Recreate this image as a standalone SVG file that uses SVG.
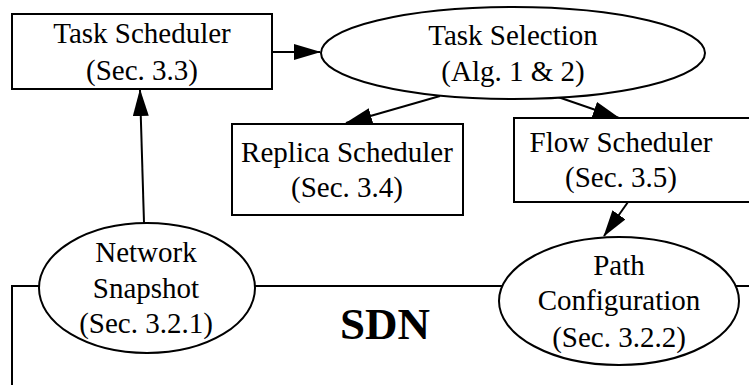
<svg xmlns="http://www.w3.org/2000/svg" width="749" height="385" viewBox="0 0 749 385">
  <style>
    .shape { fill: #fff; stroke: #000; stroke-width: 2; }
    .lbl { font-family: "Liberation Serif", "Times New Roman", serif; font-size: 29px; fill: #000; text-anchor: middle; }
    .sdn { font-family: "Liberation Serif", "Times New Roman", serif; font-size: 45px; font-weight: bold; fill: #000; text-anchor: middle; }
    .edge { fill: none; stroke: #000; stroke-width: 2; marker-end: url(#arrow); }
  </style>
  <defs>
    <marker id="arrow" markerUnits="userSpaceOnUse" markerWidth="28" markerHeight="18" refX="26" refY="8" orient="auto">
      <path d="M0,0 L27,8 L0,16 Z" fill="#000"/>
    </marker>
  </defs>
  <rect width="749" height="385" fill="#fff"/>

  <!-- SDN domain outline -->
  <g id="sdn">
    <polyline points="12,386 12,286 760,286" fill="none" stroke="#000" stroke-width="2"/>
    <text class="sdn" x="385" y="339">SDN</text>
  </g>

  <!-- connectors -->
  <g id="edges">
    <line class="edge" x1="272" y1="52" x2="320" y2="52"/>
    <line class="edge" x1="144" y1="223" x2="140" y2="90"/>
    <line class="edge" x1="440" y1="96" x2="346" y2="123"/>
    <line class="edge" x1="558" y1="97" x2="619" y2="118"/>
    <line class="edge" x1="628" y1="202" x2="604" y2="236"/>
  </g>

  <g id="task-scheduler">
    <rect class="shape" x="12" y="14" width="260" height="75"/>
    <text class="lbl" x="142" y="43">Task Scheduler</text>
    <text class="lbl" x="142" y="80">(Sec. 3.3)</text>
  </g>

  <g id="task-selection">
    <ellipse class="shape" cx="513" cy="53" rx="192" ry="46"/>
    <text class="lbl" x="513" y="45">Task Selection</text>
    <text class="lbl" x="513" y="81">(Alg. 1 &amp; 2)</text>
  </g>

  <g id="replica-scheduler">
    <rect class="shape" x="232" y="124" width="231" height="91"/>
    <text class="lbl" x="347" y="162">Replica Scheduler</text>
    <text class="lbl" x="347" y="197">(Sec. 3.4)</text>
  </g>

  <g id="flow-scheduler">
    <rect class="shape" x="514" y="118" width="240" height="84"/>
    <text class="lbl" x="621" y="152">Flow Scheduler</text>
    <text class="lbl" x="621" y="187">(Sec. 3.5)</text>
  </g>

  <g id="network-snapshot">
    <ellipse class="shape" cx="147" cy="288" rx="108" ry="65"/>
    <text class="lbl" x="146" y="262">Network</text>
    <text class="lbl" x="146" y="298">Snapshot</text>
    <text class="lbl" x="146" y="333">(Sec. 3.2.1)</text>
  </g>

  <g id="path-configuration">
    <ellipse class="shape" cx="619" cy="301" rx="120" ry="64"/>
    <text class="lbl" x="619" y="275">Path</text>
    <text class="lbl" x="619" y="310">Configuration</text>
    <text class="lbl" x="619" y="347">(Sec. 3.2.2)</text>
  </g>
</svg>
